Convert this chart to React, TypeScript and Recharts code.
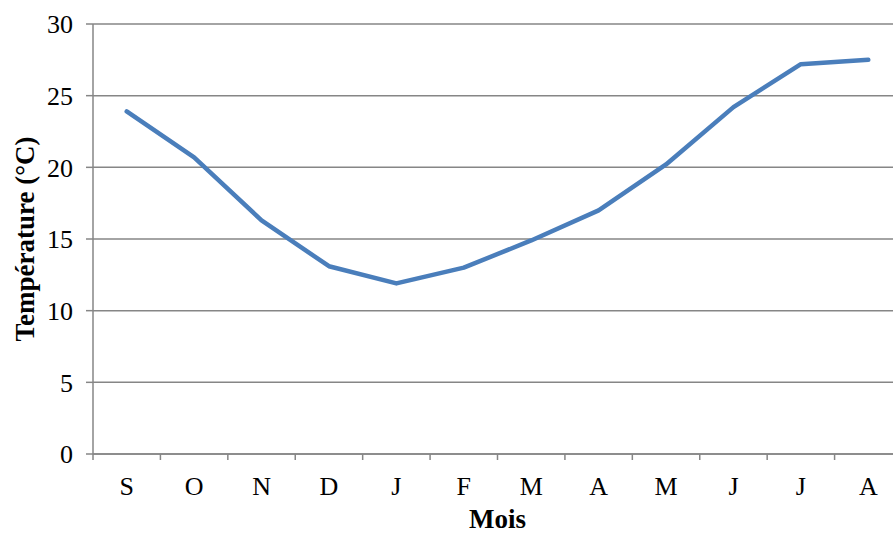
import React from 'react';
import { LineChart, Line, XAxis, YAxis, CartesianGrid, Label } from 'recharts';

const months = ['S', 'O', 'N', 'D', 'J', 'F', 'M', 'A', 'M', 'J', 'J', 'A'];
const temperatures = [23.9, 20.7, 16.3, 13.1, 11.9, 13.0, 14.9, 17.0, 20.2, 24.2, 27.2, 27.5];
const yTicks = [0, 5, 10, 15, 20, 25, 30];

const data = months.map((m, i) => ({ key: `${m}${i}`, month: m, temp: temperatures[i] }));

// layout
const CHART_W = 910;
const CHART_H = 533;
const Y_AXIS_W = 93;
const X_AXIS_H = 79;
const PLOT_RIGHT = CHART_W - 8;
const PLOT_BOTTOM = CHART_H - X_AXIS_H;
const STEP = (PLOT_RIGHT - Y_AXIS_W) / months.length;

const FONT = '"Liberation Serif", "Times New Roman", serif';
const GRID = '#868686';

const MonthTick = (props: any) => {
  const { x, payload, index } = props;
  return (
    <g>
      <line x1={x - STEP / 2} x2={x - STEP / 2} y1={PLOT_BOTTOM} y2={PLOT_BOTTOM + 6} stroke={GRID} strokeWidth={1.5} />
      {index === months.length - 1 && (
        <line x1={x + STEP / 2} x2={x + STEP / 2} y1={PLOT_BOTTOM} y2={PLOT_BOTTOM + 6} stroke={GRID} strokeWidth={1.5} />
      )}
      <text x={x} y={PLOT_BOTTOM + 41} textAnchor="middle" fontFamily={FONT} fontSize={26} fill="#000">
        {months[index] ?? payload.value}
      </text>
    </g>
  );
};

export default function App() {
  return (
    <div style={{ position: 'fixed', left: 0, top: 0, width: 893, height: 533, overflow: 'hidden', background: '#fff' }}>
      <LineChart width={CHART_W} height={CHART_H} data={data} margin={{ top: 24, right: 8, bottom: 0, left: 0 }}>
        <CartesianGrid vertical={false} stroke={GRID} strokeWidth={1.5} />
        <XAxis
          dataKey="key"
          height={X_AXIS_H}
          interval={0}
          padding={{ left: STEP / 2, right: STEP / 2 }}
          axisLine={{ stroke: GRID, strokeWidth: 1.5 }}
          tickLine={false}
          tick={<MonthTick />}
        >
          <Label value="Mois" position="insideBottom" offset={5} style={{ fontFamily: FONT, fontSize: 27, fontWeight: 'bold', fill: '#000' }} />
        </XAxis>
        <YAxis
          width={Y_AXIS_W}
          domain={[0, 30]}
          ticks={yTicks}
          interval={0}
          tickSize={7}
          tickMargin={13}
          axisLine={{ stroke: GRID, strokeWidth: 1.5 }}
          tickLine={{ stroke: GRID, strokeWidth: 1.5 }}
          tick={{ fontFamily: FONT, fontSize: 26, fill: '#000' }}
        >
          <Label value="Température (°C)" angle={-90} position="center" dx={-22} style={{ fontFamily: FONT, fontSize: 27, fontWeight: 'bold', fill: '#000' }} />
        </YAxis>
        <Line
          type="linear"
          dataKey="temp"
          stroke="#4A7EBB"
          strokeWidth={4.5}
          strokeLinecap="round"
          strokeLinejoin="round"
          dot={false}
          activeDot={false}
          isAnimationActive={false}
        />
      </LineChart>
    </div>
  );
}
